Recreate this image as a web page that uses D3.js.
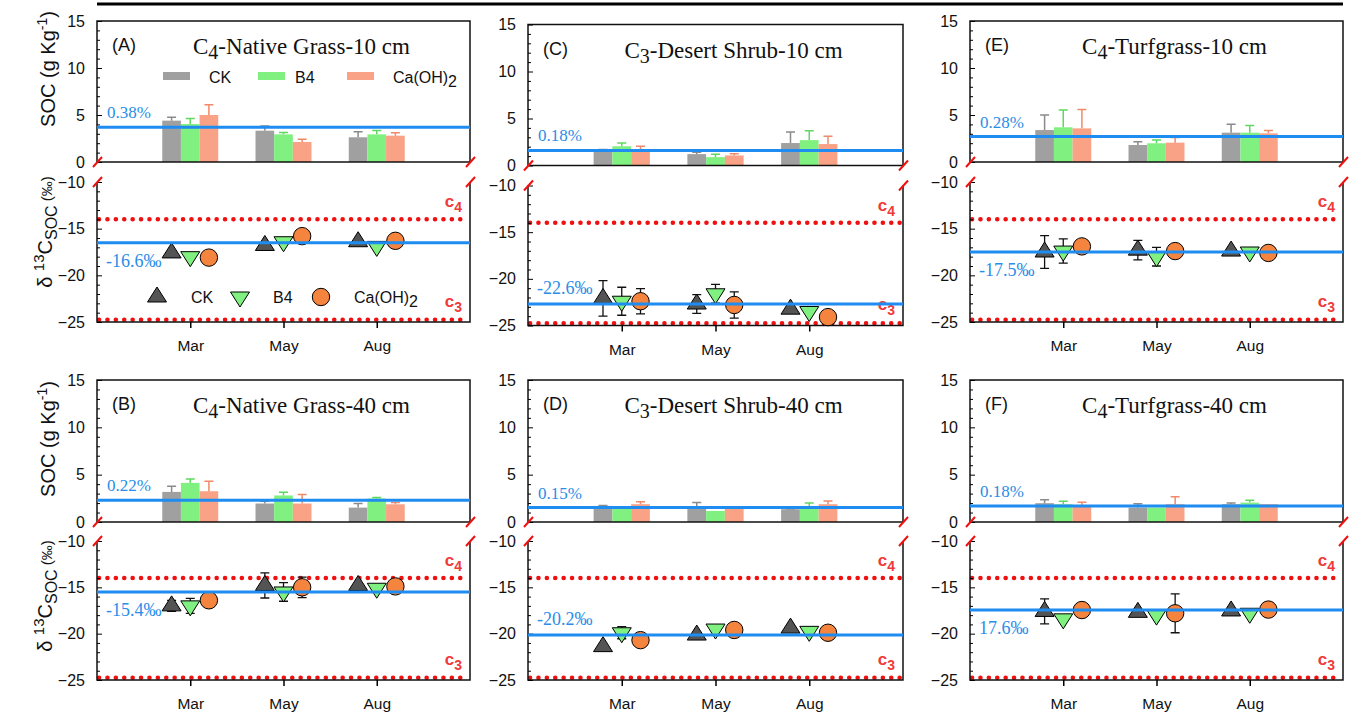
<!DOCTYPE html>
<html>
<head>
<meta charset="utf-8">
<script src="https://cdn.jsdelivr.net/npm/d3@7"></script>
<style>
  body { margin: 0; background: #fff; }
</style>
</head>
<body>
<script>
// ---- data (panel order: A, B, C, D, E, F; each row: Mar, May, Aug) ----
const months = ["Mar", "May", "Aug"];
const treatments = ["CK", "B4", "Ca(OH)2"];
const panelLetters = ["A", "B", "C", "D", "E", "F"];
const titleSub = ["4", "4", "3", "3", "4", "4"];
const titleRest = [
  "-Native Grass-10 cm", "-Native Grass-40 cm",
  "-Desert Shrub-10 cm", "-Desert Shrub-40 cm",
  "-Turfgrass-10 cm", "-Turfgrass-40 cm",
];

// SOC (g/kg)
const socCK = [[4.4, 3.33, 2.63], [3.18, 1.95, 1.52], [1.6, 1.21, 2.39], [1.7, 1.41, 1.35], [3.4, 1.81, 3.12], [1.99, 1.52, 1.88]];
const socB4 = [[4.04, 2.94, 2.94], [4.13, 2.8, 2.48], [2.05, 0.89, 2.7], [1.52, 1.17, 1.7], [3.69, 1.99, 3.12], [1.88, 1.52, 2.05]];
const socCa = [[5.0, 2.13, 2.8], [3.25, 1.95, 1.87], [1.65, 1.07, 2.28], [1.88, 1.45, 1.88], [3.58, 2.06, 3.05], [1.63, 1.88, 1.88]];
const socErrCK = [[0.35, 0.5, 0.6], [0.6, 0.25, 0.43], [0.1, 0.2, 1.17], [0.05, 0.64, 0.05], [1.6, 0.35, 0.9], [0.35, 0.4, 0.12]];
const socErrB4 = [[0.6, 0.2, 0.4], [0.42, 0.35, 0.1], [0.35, 0.3, 1.0], [0, 0, 0.3], [1.85, 0.35, 0.75], [0.3, 0, 0.25]];
const socErrCa = [[1.1, 0.3, 0.3], [1.06, 0.95, 0.18], [0.4, 0.17, 0.82], [0.25, 0, 0.35], [2.0, 0.55, 0.3], [0.45, 0.8, 0]];

// delta 13C SOC (permil)
const d13cCK = [[-17.6, -16.8, -16.4], [-17.0, -14.8, -14.8], [-22.1, -22.7, -23.25], [-21.4, -20.15, -19.4], [-17.5, -17.3, -17.4], [-17.6, -17.7, -17.55]];
const d13cB4 = [[-18.0, -16.4, -16.9], [-17.0, -15.5, -15.1], [-22.4, -21.6, -23.5], [-19.9, -19.5, -19.75], [-17.4, -18.0, -17.5], [-18.4, -18.0, -17.8]];
const d13cCa = [[-18.1, -15.8, -16.3], [-16.4, -15.0, -14.9], [-22.4, -22.8, -24.1], [-20.7, -19.6, -19.9], [-16.9, -17.4, -17.6], [-17.45, -17.8, -17.4]];
const d13cErrCK = [[0, 0, 0], [0.6, 1.35, 0], [1.9, 1.0, 0], [0, 0, 0], [1.75, 1.04, 0], [1.35, 0, 0]];
const d13cErrB4 = [[0, 0, 0], [0.8, 1.0, 0], [1.5, 1.0, 0], [0.65, 0, 0], [1.3, 1.0, 0], [0, 0, 0]];
const d13cErrCa = [[0, 0, 0], [0, 1.1, 0], [1.35, 1.4, 0], [0, 0, 0], [0, 0, 0], [0, 2.1, 0]];

// reference lines
const socRef = [3.69, 2.3, 1.6, 1.52, 2.7, 1.7];
const socRefLabel = ["0.38%", "0.22%", "0.18%", "0.15%", "0.28%", "0.18%"];
const d13cRef = [-16.5, -15.5, -22.7, -20.15, -17.5, -17.45];
const d13cRefLabel = ["-16.6‰", "-15.4‰", "-22.6‰", "-20.2‰", "-17.5‰", "17.6‰"];
const c4Ref = -14;
const c3Ref = -24.75;

// ---- layout ----
const colX = [[97, 470], [528, 903], [970, 1343]];
const rowY = [{ u: [21, 162], l: [182, 322] }, { u: [380, 522], l: [541, 680] }];
const refLabelBelow = [true, true, false, false, true, true];

const serif = "'Liberation Serif', 'Times New Roman', serif";
const blue = "#1e8cf0";
const red = "#f01010";

const series = [
  { soc: socCK, socErr: socErrCK, d: d13cCK, dErr: d13cErrCK, bar: "#a0a0a0", err: "#8a8a8a", mark: "#545454", shape: "up" },
  { soc: socB4, socErr: socErrB4, d: d13cB4, dErr: d13cErrB4, bar: "#80f080", err: "#60d860", mark: "#80f080", shape: "down" },
  { soc: socCa, socErr: socErrCa, d: d13cCa, dErr: d13cErrCa, bar: "#f9a285", err: "#f08a6a", mark: "#f5843f", shape: "circle" },
];

const svg = d3.select("body").append("svg")
  .attr("width", 1349).attr("height", 717)
  .style("font-family", "'Liberation Sans', Arial, sans-serif");

// top rule
svg.append("line")
  .attr("x1", 97).attr("x2", 1343).attr("y1", 4).attr("y2", 4)
  .attr("stroke", "#000").attr("stroke-width", 3);

const drawMarker = (sel, shape, fill) => {
  if (shape === "circle") {
    sel.append("circle").attr("r", 8.7).attr("fill", fill).attr("stroke", "#000").attr("stroke-width", 1);
  } else {
    sel.append("path")
      .attr("d", shape === "up" ? "M0,-10L9.5,5L-9.5,5Z" : "M0,10L9.5,-5L-9.5,-5Z")
      .attr("fill", fill).attr("stroke", "#000").attr("stroke-width", 1);
  }
};

const breakMark = (g, x, y) => {
  g.append("line")
    .attr("x1", x - 4).attr("y1", y + 5).attr("x2", x + 5).attr("y2", y - 5)
    .attr("stroke", red).attr("stroke-width", 2);
};

const subLabel = (g, x, y, main, sub) => {
  const t = g.append("text").attr("x", x).attr("y", y)
    .attr("text-anchor", "end").attr("fill", "#f03a3a")
    .attr("font-weight", "bold").attr("font-size", 17);
  t.append("tspan").text(main);
  t.append("tspan").attr("font-size", 14).attr("dy", 5).text(sub);
};

panelLetters.forEach((letter, p) => {
  const col = Math.floor(p / 2), row = p % 2;
  const shift = p === 2 ? 3.5 : 0;
  const [x0, x1] = colX[col];
  const [uTop, uBot] = rowY[row].u.map((v) => v + shift);
  const [lTop, lBot] = rowY[row].l.map((v) => v + shift);

  const x = d3.scaleLinear().domain([0, 4]).range([x0, x1]);
  const yU = d3.scaleLinear().domain([0, 15]).range([uBot, uTop]);
  const yL = d3.scaleLinear().domain([-25, -10]).range([lBot, lTop]);
  const bw = x(0.2) - x(0);
  const g = svg.append("g");

  // ---------- upper: SOC bars ----------
  series.forEach((s, t) => {
    const off = (t - 1) * 0.2;
    const rows = s.soc[p].map((v, i) => ({ i, v, e: s.socErr[p][i] }));
    g.append("g").selectAll("rect").data(rows).join("rect")
      .attr("x", (d) => x(d.i + 1 + off) - bw / 2)
      .attr("width", bw)
      .attr("y", (d) => yU(d.v))
      .attr("height", (d) => yU(0) - yU(d.v))
      .attr("fill", s.bar);
    g.append("g").selectAll("path").data(rows.filter((d) => d.e > 0)).join("path")
      .attr("d", (d) => {
        const cx = x(d.i + 1 + off), yt = yU(d.v + d.e);
        return `M${cx},${yU(d.v)}V${yt}M${cx - 4.5},${yt}H${cx + 4.5}`;
      })
      .attr("fill", "none").attr("stroke", s.err).attr("stroke-width", 1.5);
  });

  // frame
  g.append("rect")
    .attr("x", x0).attr("y", uTop).attr("width", x1 - x0).attr("height", uBot - uTop)
    .attr("fill", "none").attr("stroke", "#111").attr("stroke-width", 1.5);

  // y axis upper
  g.append("g").attr("transform", `translate(${x0},0)`)
    .call(d3.axisLeft(yU).tickValues(d3.range(0, 16).filter((v) => v % 5)).tickSize(-3).tickSizeOuter(0).tickFormat(""))
    .call((a) => a.select(".domain").remove());
  g.append("g").attr("transform", `translate(${x0},0)`)
    .call(d3.axisLeft(yU).tickValues([0, 5, 10, 15]).tickSize(-5).tickSizeOuter(0).tickPadding(12))
    .call((a) => a.select(".domain").remove())
    .call((a) => a.selectAll("text").attr("font-size", 16).attr("font-family", "'Liberation Sans', Arial, sans-serif").attr("fill", "#111"));

  // reference line upper
  g.append("line")
    .attr("x1", x0).attr("x2", x1).attr("y1", yU(socRef[p])).attr("y2", yU(socRef[p]))
    .attr("stroke", blue).attr("stroke-width", 3);
  g.append("text")
    .attr("x", x0 + 10).attr("y", yU(socRef[p]) - 9)
    .attr("font-family", serif).attr("font-size", 17).attr("fill", "#2a8de8")
    .text(socRefLabel[p]);

  // panel letter and title
  g.append("text").attr("x", x0 + 15).attr("y", uTop + 30)
    .attr("font-size", 18).attr("fill", "#111").text(`(${letter})`);
  const title = g.append("text")
    .attr("x", (x0 + x1) / 2 + 18).attr("y", uTop + 33)
    .attr("text-anchor", "middle").attr("font-family", serif).attr("font-size", 23).attr("fill", "#111");
  title.append("tspan").text("C");
  title.append("tspan").attr("font-size", 20).attr("dy", 5).text(titleSub[p]);
  title.append("tspan").attr("dy", -5).text(titleRest[p]);

  // ---------- lower: delta 13C ----------
  // c4 / c3 dotted reference
  [c4Ref, c3Ref].forEach((v) => {
    g.append("line")
      .attr("x1", x0 + 2).attr("x2", x1 - 2).attr("y1", yL(v)).attr("y2", yL(v))
      .attr("stroke", red).attr("stroke-width", 4.5)
      .attr("stroke-linecap", "round").attr("stroke-dasharray", "0.1 8.3");
  });
  subLabel(g, x1 - 8, yL(c4Ref) - 12, "c", "4");
  subLabel(g, x1 - 8, yL(c3Ref) - 13, "c", "3");

  // axes lower
  g.append("path")
    .attr("d", `M${x0},${lTop}V${lBot}H${x1}V${lTop}`)
    .attr("fill", "none").attr("stroke", "#111").attr("stroke-width", 1.5);
  g.append("g").attr("transform", `translate(${x0},0)`)
    .call(d3.axisLeft(yL).tickValues(d3.range(-25, -9).filter((v) => v % 5)).tickSize(-3).tickSizeOuter(0).tickFormat(""))
    .call((a) => a.select(".domain").remove());
  g.append("g").attr("transform", `translate(${x0},0)`)
    .call(d3.axisLeft(yL).tickValues([-25, -20, -15, -10]).tickSize(-5).tickSizeOuter(0).tickPadding(12))
    .call((a) => a.select(".domain").remove())
    .call((a) => a.selectAll("text").attr("font-size", 16).attr("font-family", "'Liberation Sans', Arial, sans-serif").attr("fill", "#111"));
  g.append("g").attr("transform", `translate(0,${lBot})`)
    .call(d3.axisBottom(x).tickValues([1, 2, 3]).tickFormat((d) => months[d - 1]).tickSize(6).tickSizeOuter(0).tickPadding(12))
    .call((a) => a.select(".domain").remove())
    .call((a) => a.selectAll("line").attr("stroke-width", 1.5))
    .call((a) => a.selectAll("text").attr("font-size", 15.5).attr("font-family", "'Liberation Sans', Arial, sans-serif").attr("fill", "#111"));

  // error bars then markers
  series.forEach((s, t) => {
    const off = (t - 1) * 0.2;
    const rows = s.d[p].map((v, i) => ({ i, v, e: s.dErr[p][i] }));
    g.append("g").selectAll("path").data(rows.filter((d) => d.e > 0)).join("path")
      .attr("d", (d) => {
        const cx = x(d.i + 1 + off), ya = yL(d.v + d.e), yb = yL(d.v - d.e);
        return `M${cx},${ya}V${yb}M${cx - 4.5},${ya}H${cx + 4.5}M${cx - 4.5},${yb}H${cx + 4.5}`;
      })
      .attr("fill", "none").attr("stroke", "#111").attr("stroke-width", 1.3);
  });
  series.forEach((s, t) => {
    const off = (t - 1) * 0.2;
    g.append("g").selectAll("g").data(s.d[p]).join("g")
      .attr("transform", (d, i) => `translate(${x(i + 1 + off)},${yL(d)})`)
      .each(function () { drawMarker(d3.select(this), s.shape, s.mark); });
  });

  // reference line lower
  g.append("line")
    .attr("x1", x0).attr("x2", x1).attr("y1", yL(d13cRef[p])).attr("y2", yL(d13cRef[p]))
    .attr("stroke", blue).attr("stroke-width", 3);
  g.append("text")
    .attr("x", x0 + 9).attr("y", yL(d13cRef[p]) + (refLabelBelow[p] ? 24 : -10))
    .attr("font-family", serif).attr("font-size", 18).attr("fill", "#2a8de8")
    .text(d13cRefLabel[p]);

  // axis break marks
  [x0, x1].forEach((bx) => {
    breakMark(g, bx, uBot);
    breakMark(g, bx, lTop);
  });

  // legends in panel A
  if (p === 0) {
    const lg = g.append("g");
    const rx = [66, 161, 250], tx = [112, 198, 296];
    series.forEach((s, t) => {
      lg.append("rect").attr("x", x0 + rx[t]).attr("y", uTop + 51).attr("width", 27).attr("height", 8).attr("fill", s.bar);
      const tt = lg.append("text").attr("x", x0 + tx[t]).attr("y", uTop + 62).attr("font-size", 16).attr("fill", "#111");
      if (t === 2) {
        tt.append("tspan").text("Ca(OH)");
        tt.append("tspan").attr("dy", 4).text("2");
      } else tt.text(treatments[t]);
    });
    const mx = [60, 143, 224], mtx = [94, 176, 257];
    series.forEach((s, t) => {
      const mg = lg.append("g").attr("transform", `translate(${x0 + mx[t]},${lTop + 115})`);
      drawMarker(mg, s.shape, s.mark);
      const tt = lg.append("text").attr("x", x0 + mtx[t]).attr("y", lTop + 121).attr("font-size", 16).attr("fill", "#111");
      if (t === 2) {
        tt.append("tspan").text("Ca(OH)");
        tt.append("tspan").attr("dy", 4).text("2");
      } else tt.text(treatments[t]);
    });
  }

  // y-axis titles, first column only
  if (col === 0) {
    const cyU = row === 0 ? 69 : 439;
    const t1 = g.append("text")
      .attr("transform", `translate(55,${cyU}) rotate(-90)`)
      .attr("text-anchor", "middle").attr("font-size", 20).attr("fill", "#111");
    t1.append("tspan").text("SOC (g Kg");
    t1.append("tspan").attr("font-size", 14).attr("dy", -8).text("-1");
    t1.append("tspan").attr("dy", 8).text(")");

    const cyL = row === 0 ? 232 : 596;
    const t2 = g.append("text")
      .attr("transform", `translate(52,${cyL}) rotate(-90)`)
      .attr("text-anchor", "middle").attr("font-size", 20).attr("fill", "#111");
    t2.append("tspan").text("δ ");
    t2.append("tspan").attr("font-size", 15).attr("dy", -8).text("13");
    t2.append("tspan").attr("dy", 8).text("C");
    t2.append("tspan").attr("font-size", 16).attr("dy", 5).text("SOC");
    t2.append("tspan").attr("font-size", 15).attr("dy", -5).text(" (‰)");
  }
});
</script>
</body>
</html>
